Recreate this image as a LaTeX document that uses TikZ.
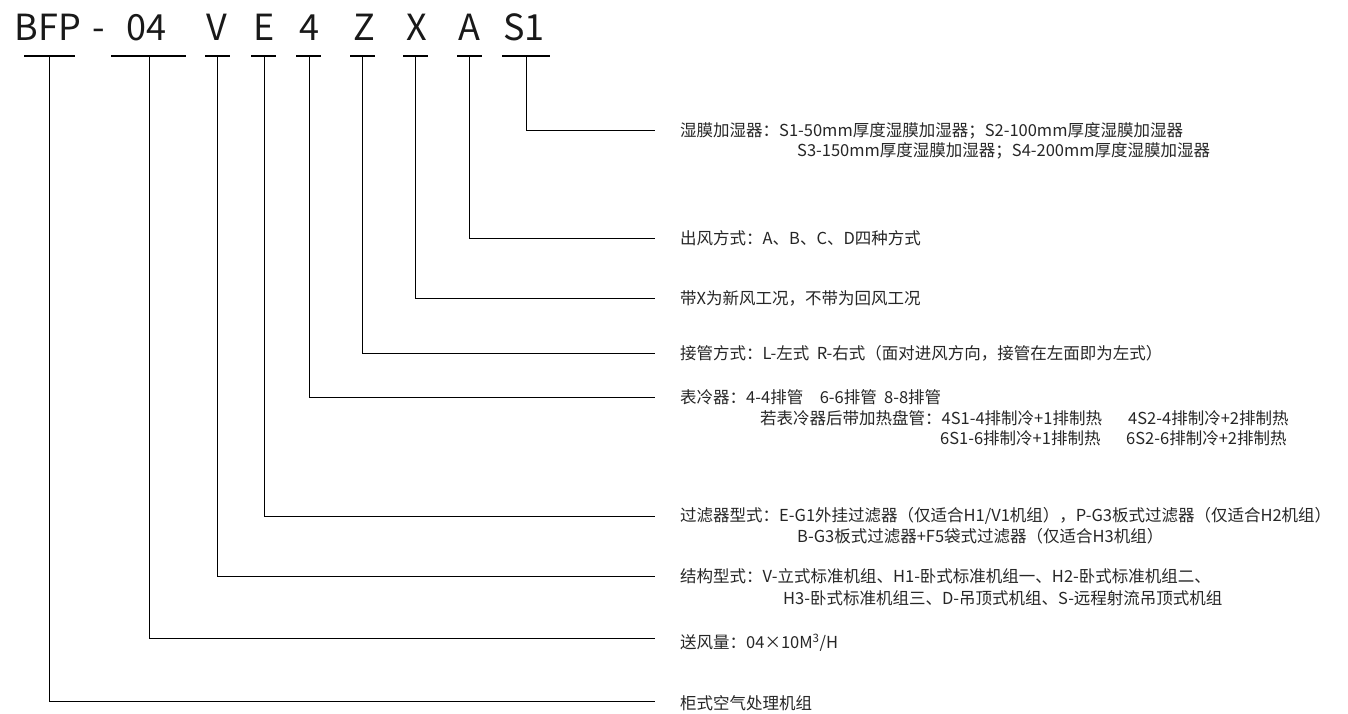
\documentclass[tikz,border=0pt]{standalone}
\usepackage{fontspec}
\setmainfont{Noto Sans CJK SC}
\begin{document}
\begin{tikzpicture}[x=1pt,y=-1pt,
  code/.style={font=\fontsize{36}{36}\selectfont, anchor=base, inner sep=0pt, text=black!90},
  desc/.style={font=\fontsize{16.5}{17}\selectfont, anchor=west, inner sep=0pt, text=black!85},
  uline/.style={line width=2pt, black},
  link/.style={line width=0.9pt, black}]
\useasboundingbox (0,0) rectangle (1348,713);
% title codes
\node[code] (cBFP) at (48,40) {BFP};
\node[code] (cdash) at (99,40) {-};
\node[code] (c04) at (146,40) {04};
\node[code] (cV) at (217,40) {V};
\node[code] (cE) at (264,40) {E};
\node[code] (c4) at (309,40) {4};
\node[code] (cZ) at (364,40) {Z};
\node[code] (cX) at (417,40) {X};
\node[code] (cA) at (469,40) {A};
\node[code] (cS) at (524,40) {S1};
% underlines
\coordinate (lBFP) at (24,56);  \coordinate (rBFP) at (75,56);
\coordinate (l04) at (111,56);  \coordinate (r04) at (186,56);
\coordinate (lV) at (205,56);   \coordinate (rV) at (230,56);
\coordinate (lE) at (251,56);   \coordinate (rE) at (276,56);
\coordinate (l4) at (296,56);   \coordinate (r4) at (321,56);
\coordinate (lZ) at (350,56);   \coordinate (rZ) at (375,56);
\coordinate (lX) at (403,56);   \coordinate (rX) at (428,56);
\coordinate (lA) at (457,56);   \coordinate (rA) at (482,56);
\coordinate (lS) at (502,56);   \coordinate (rS) at (550,56);
\foreach \k in {BFP,04,V,E,4,Z,X,A,S} \draw[uline] (l\k) -- (r\k);
% connector start points
\coordinate (uBFP) at (49,56);
\coordinate (u04) at (149,56);
\coordinate (uV) at (217,56);
\coordinate (uE) at (264,56);
\coordinate (u4) at (309,56);
\coordinate (uZ) at (362,56);
\coordinate (uX) at (415,56);
\coordinate (uA) at (469,56);
\coordinate (uS) at (526,56);
% connector ends
\coordinate (eS) at (655,130);
\coordinate (eA) at (655,238);
\coordinate (eX) at (655,298);
\coordinate (eZ) at (655,353);
\coordinate (e4) at (655,397);
\coordinate (eE) at (655,516);
\coordinate (eV) at (655,576);
\coordinate (e04) at (655,638);
\coordinate (eBFP) at (655,701);
\foreach \k in {BFP,04,V,E,4,Z,X,A,S} \draw[link] (u\k) |- (e\k);
% descriptions
\node[desc] (dS1) at (680,131) {湿膜加湿器：S1-50mm厚度湿膜加湿器；S2-100mm厚度湿膜加湿器};
\node[desc] (dS2) at (797,151) {S3-150mm厚度湿膜加湿器；S4-200mm厚度湿膜加湿器};
\node[desc] (dA) at (680,238) {出风方式：A、B、C、D四种方式};
\node[desc] (dX) at (680,298) {带X为新风工况，不带为回风工况};
\node[desc] (dZ) at (680,353) {接管方式：L-左式\ \ R-右式（面对进风方向，接管在左面即为左式）};
\node[desc] (d4a) at (680,397) {表冷器：4-4排管\quad 6-6排管\ \ 8-8排管};
\node[desc] (d4b) at (760,418) {若表冷器后带加热盘管：4S1-4排制冷+1排制热};
\node[desc] (d4c) at (1128,418) {4S2-4排制冷+2排制热};
\node[desc] (d4d) at (940,438) {6S1-6排制冷+1排制热};
\node[desc] (d4e) at (1126,438) {6S2-6排制冷+2排制热};
\node[desc] (dE1) at (680,516) {过滤器型式：E-G1外挂过滤器（仅适合H1/V1机组），P-G3板式过滤器（仅适合H2机组）};
\node[desc] (dE2) at (797,536) {B-G3板式过滤器+F5袋式过滤器（仅适合H3机组）};
\node[desc] (dV1) at (680,576) {结构型式：V-立式标准机组、H1-卧式标准机组一、H2-卧式标准机组二、};
\node[desc] (dV2) at (783,598) {H3-卧式标准机组三、D-吊顶式机组、S-远程射流吊顶式机组};
\node[desc] (d04) at (680,643) {送风量：04×10M\textsuperscript{3}/H};
\node[desc] (dBFP) at (680,703) {柜式空气处理机组};
\end{tikzpicture}
\end{document}
